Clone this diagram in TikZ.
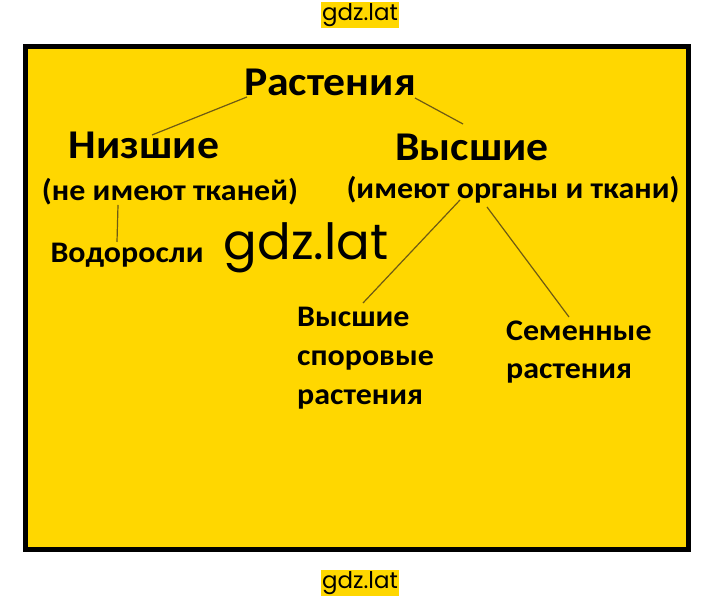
\documentclass[tikz,border=0pt]{standalone}
\usepackage{fontspec}
\setmainfont{Carlito}
\newfontfamily\plantfont[FakeStretch=1.07]{Carlito}
\newfontfamily\wmfont{Poppins}
\usetikzlibrary{positioning,calc}
\definecolor{plantyellow}{RGB}{255,215,0}
\definecolor{linkbrown}{RGB}{110,90,20}

\begin{document}
\begin{tikzpicture}[x=1bp,y=1bp,
    head/.style={font=\plantfont\bfseries\fontsize{41}{44}\selectfont, inner sep=0pt},
    sub/.style={font=\plantfont\bfseries\fontsize{30}{39}\selectfont, inner sep=0pt, align=left},
    link/.style={draw=linkbrown, line width=1.2pt},
    wmbox/.style={font=\wmfont\fontsize{23}{23}\selectfont, fill=plantyellow, inner sep=1pt}]
                \useasboundingbox (0,0) rectangle (720,602);
                \draw[fill=plantyellow, line width=5bp] (25.5,52.5) rectangle (688.5,555.5);

                \node[wmbox] (marktop) at (360,587) {gdz.lat};
                \node[wmbox] (markbot) at (360,19) {gdz.lat};

                \node[head] (plants) at (330,520) {Растения};
                \node[head] (lower) at (144,457) {Низшие};
                \node[head] (higher) at (472,455) {Высшие};
                \node[sub] (lowernote) at (170,410) {(не имеют тканей)};
                \node[sub] (highernote) at (513,412) {(имеют органы и ткани)};
                \node[sub] (algae) at (127,347) {Водоросли};
                \node[sub, anchor=west] (spore) at (297,244) {Высшие\\споровые\\растения};
                \node[sub, anchor=west] (seed) at (506,250) {Семенные\\растения};
                \node[font=\wmfont\fontsize{50}{50}\selectfont, inner sep=0pt] (markmid) at (306,354) {gdz.lat};

                \draw[link] ($(plants)+(-83,-15)$) -- ($(lower)+(8,10)$);
                \draw[link] ($(plants)+(85,-16)$) -- ($(higher)+(-9,23)$);
                \draw[link] ($(lowernote)+(-52,-13)$) -- ($(algae)+(-10,13)$);
                \draw[link] ($(highernote)+(-53,-10)$) -- ($(spore.west)+(66,55)$);
                \draw[link] ($(highernote)+(-26,-17)$) -- ($(seed.west)+(63,35)$);
            \end{tikzpicture}
\end{document}
